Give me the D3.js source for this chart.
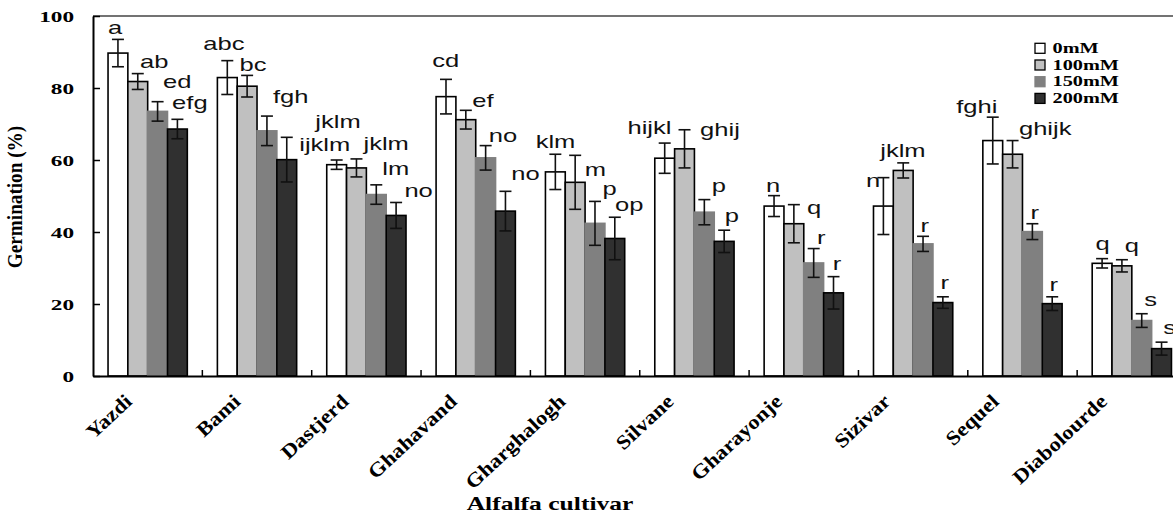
<!DOCTYPE html>
<html>
<head>
<meta charset="utf-8">
<script src="https://cdn.jsdelivr.net/npm/d3@7"></script>
<style>
  html, body { margin: 0; padding: 0; background: #fff; }
  svg { display: block; }
</style>
</head>
<body>
<svg id="chart" width="1173" height="514"></svg>
<script>
// ---------------- data ----------------
const cultivars = ["Yazdi", "Bami", "Dastjerd", "Ghahavand", "Gharghalogh", "Silvane", "Gharayonje", "Sizivar", "Sequel", "Diabolourde"];
const treatments = ["0mM", "100mM", "150mM", "200mM"];

const germ0   = [89.7, 82.9, 58.7, 77.6, 56.7, 60.5, 47.2, 47.2, 65.4, 31.3];
const germ100 = [81.8, 80.5, 57.8, 71.2, 53.8, 63.1, 42.3, 57.1, 61.6, 30.6];
const germ150 = [73.5, 68.1, 50.4, 60.6, 42.4, 45.5, 31.4, 36.7, 40.1, 15.4];
const germ200 = [68.6, 60.1, 44.6, 45.8, 38.2, 37.4, 23.1, 20.4, 20.1, 7.6];

const err0   = [3.8, 4.7, 1.3, 4.8, 4.9, 4.2, 2.9, 7.9, 6.5, 1.3];
const err100 = [2.2, 3.0, 2.5, 2.6, 7.5, 5.3, 5.3, 2.1, 3.8, 1.7];
const err150 = [2.7, 4.1, 2.7, 3.4, 6.1, 3.5, 4.0, 2.1, 2.2, 1.9];
const err200 = [2.7, 6.2, 3.6, 5.5, 5.9, 3.1, 4.5, 1.6, 1.9, 1.8];

const sig0   = ["a", "abc", "jklm", "cd", "klm", "hijkl", "n", "n", "fghi", "q"];
const sig100 = ["ab", "bc", "jklm", "ef", "m", "ghij", "q", "jklm", "ghijk", "q"];
const sig150 = ["ed", "fgh", "lm", "no", "p", "p", "r", "r", "r", "s"];
const sig200 = ["efg", "ijklm", "no", "no", "op", "p", "r", "r", "r", "s"];

const yTicks = [0, 20, 40, 60, 80, 100];

// ---------------- layout / style ----------------
const colors = {"0mM": "#ffffff", "100mM": "#c0c0c0", "150mM": "#808080", "200mM": "#303030"};
const strokes = {"0mM": "#000", "100mM": "#000", "150mM": "#808080", "200mM": "#000"};
// label nudges [dx from bar centre, dy from error-bar top] in px (hand placed in source figure)
const nudge0   = [[-10,-5.6],[-24,-10.9],[-21.3,-32],[-13.8,-12.3],[-19.7,-6.4],[-37.2,-8.7],[-8,-3.6],[-17.3,9.4],[-36.5,-4],[-6.7,-8.3]];
const nudge100 = [[2.3,-6],[-7.6,-4.6],[7,-8.8],[6.4,-3.3],[9.5,20.3],[15.6,6],[13.1,9],[-23,-5.6],[6.4,-6],[2.8,-7.6]];
const nudge150 = [[5.5,-14],[6,-12.9],[6,-9.4],[3.2,-4],[7.4,-6],[7.5,-7.3],[3.3,-4.7],[-2.6,-4.7],[-1.8,-5],[2.4,-7.3]];
const nudge200 = [[-5.3,-10.7],[12.5,13.2],[8.3,-5],[5.8,-11.4],[0.2,-6.7],[0.7,-8],[-0.8,-6.3],[-2.4,-8],[-2.6,-6.3],[1.6,-8.4]];

const seriesVals = [germ0, germ100, germ150, germ200];
const seriesErr = [err0, err100, err150, err200];
const seriesSig = [sig0, sig100, sig150, sig200];
const seriesNudge = [nudge0, nudge100, nudge150, nudge200];

const rows = [];
cultivars.forEach((c, i) => {
  treatments.forEach((t, j) => {
    rows.push({cultivar: c, treat: t, value: seriesVals[j][i], err: seriesErr[j][i], sig: seriesSig[j][i], nudge: seriesNudge[j][i], ci: i});
  });
});

const svg = d3.select("#chart");
svg.append("rect").attr("width", 1173).attr("height", 514).attr("fill", "#fff");

const plotLeft = 93, plotRight = 1186.5, plotTop = 16, plotBottom = 376;

const xCat = d3.scaleBand().domain(cultivars).range([plotLeft, plotRight]).padding(0);
const x0 = d3.scaleBand().domain(cultivars).range([plotLeft, plotRight]).paddingInner(0.275).paddingOuter(0.1375);
const x1 = d3.scaleBand().domain(treatments).range([0, x0.bandwidth()]).padding(0);
const y = d3.scaleLinear().domain([0, 100]).range([plotBottom, plotTop]);
const xLab = d3.scaleBand().domain(cultivars).range([plotLeft, 1176.5]).padding(0);

const serif = "'Liberation Serif','Times New Roman',Times,serif";
const sans = "'Liberation Sans',Arial,Helvetica,sans-serif";

// top frame line
svg.append("line").attr("x1", plotLeft).attr("x2", 1173).attr("y1", y(100)).attr("y2", y(100))
  .attr("stroke", "#444").attr("stroke-width", 1.5);

// bars
const bars = svg.append("g");
bars.selectAll("rect").data(rows).join("rect")
  .attr("x", d => x0(d.cultivar) + x1(d.treat))
  .attr("y", d => y(d.value))
  .attr("width", x1.bandwidth())
  .attr("height", d => y(0) - y(d.value))
  .attr("fill", d => colors[d.treat])
  .attr("stroke", d => strokes[d.treat])
  .attr("stroke-width", 1.6);

// error bars
const eb = svg.append("g").attr("stroke", "#111").attr("stroke-width", 1.6);
const cx = d => x0(d.cultivar) + x1(d.treat) + x1.bandwidth() / 2;
const capW = 6;
rows.forEach(d => {
  const xc = cx(d);
  eb.append("line").attr("x1", xc).attr("x2", xc).attr("y1", y(d.value + d.err)).attr("y2", y(d.value - d.err));
  eb.append("line").attr("x1", xc - capW).attr("x2", xc + capW).attr("y1", y(d.value + d.err)).attr("y2", y(d.value + d.err));
  eb.append("line").attr("x1", xc - capW).attr("x2", xc + capW).attr("y1", y(d.value - d.err)).attr("y2", y(d.value - d.err));
});

// significance letters
svg.append("g").selectAll("text").data(rows).join("text")
  .attr("transform", d => `translate(${cx(d) + d.nudge[0]},${y(d.value + d.err) + d.nudge[1]}) scale(1.38,1)`)
  .attr("font-family", sans).attr("font-size", 18.5).attr("fill", "#111")
  .text(d => d.sig);

// y axis
const yAxis = svg.append("g").attr("transform", `translate(${plotLeft},0)`)
  .call(d3.axisLeft(y).tickValues(yTicks).tickSize(-7).tickSizeOuter(0).tickPadding(19));
yAxis.select(".domain").attr("stroke", "#000").attr("stroke-width", 2);
yAxis.selectAll(".tick line").attr("stroke", "#000").attr("stroke-width", 1.5);
yAxis.selectAll(".tick text")
  .attr("x", null).attr("dy", null)
  .attr("transform", "translate(-19,5) scale(1.55,1)")
  .attr("font-family", serif).attr("font-weight", "bold").attr("font-size", 15).attr("fill", "#000");

// x axis
const xAxis = svg.append("g").attr("transform", `translate(0,${plotBottom})`)
  .call(d3.axisBottom(xCat).tickSize(0).tickSizeOuter(0).tickFormat(""));
xAxis.select(".domain").attr("stroke", "#000").attr("stroke-width", 2);
xAxis.selectAll(".tick").remove();
svg.append("g").selectAll("line").data(cultivars.slice(1)).join("line")
  .attr("x1", d => xCat(d)).attr("x2", d => xCat(d))
  .attr("y1", plotBottom).attr("y2", plotBottom - 6)
  .attr("stroke", "#000").attr("stroke-width", 1.5);

// category labels
svg.append("g").selectAll("text").data(cultivars).join("text")
  .attr("transform", d => `translate(${xLab(d) + xLab.bandwidth() / 2 - 14},403) rotate(-43) scale(1.13,1)`)
  .attr("text-anchor", "end")
  .attr("font-family", serif).attr("font-weight", "bold").attr("font-size", 20).attr("fill", "#000")
  .text(d => d);

// axis titles
svg.append("text")
  .attr("transform", "translate(22,197) rotate(-90) scale(1.2,1.35)")
  .attr("text-anchor", "middle")
  .attr("font-family", serif).attr("font-weight", "bold").attr("font-size", 16).attr("fill", "#000")
  .text("Germination (%)");

svg.append("text")
  .attr("transform", "translate(550,510) scale(1.42,1)")
  .attr("text-anchor", "middle")
  .attr("font-family", serif).attr("font-weight", "bold").attr("font-size", 18).attr("fill", "#000")
  .text("Alfalfa cultivar");

// legend
const lg = svg.append("g");
treatments.forEach((t, j) => {
  const cy = 48.3 + j * 16.7;
  lg.append("rect").attr("x", 1035).attr("y", cy - 5).attr("width", 10).attr("height", 10)
    .attr("fill", colors[t]).attr("stroke", strokes[t]).attr("stroke-width", 1.3);
  lg.append("text")
    .attr("transform", `translate(1052.5,${cy + 4.5}) scale(1.45,1)`)
    .attr("font-family", serif).attr("font-weight", "bold").attr("font-size", 14).attr("fill", "#000")
    .text(t);
});
</script>
</body>
</html>
